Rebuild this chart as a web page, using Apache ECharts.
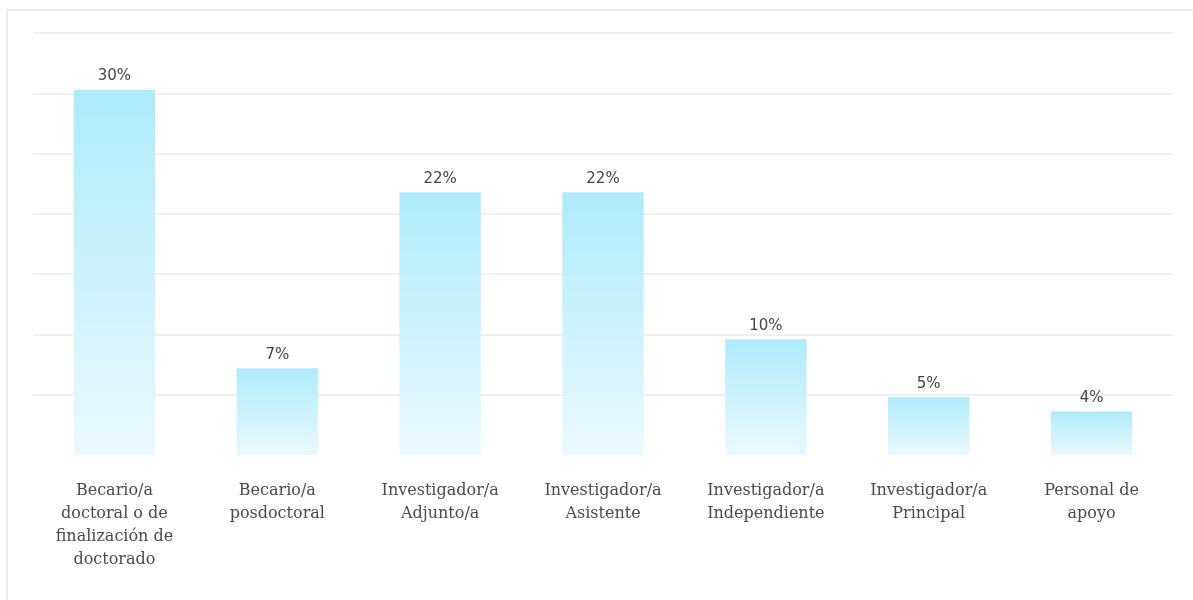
<!DOCTYPE html>
<html>
<head>
<meta charset="utf-8">
<script src="https://cdn.jsdelivr.net/npm/echarts@6/dist/echarts.min.js"></script>
<style>
  html, body { margin: 0; padding: 0; background: #fff; }
  #frame {
    position: absolute; left: 6px; top: 9px; width: 1187px; height: 591px;
    border-left: 2px solid #ececec; border-top: 2px solid #ececec;
    box-sizing: border-box;
  }
  #chart { position: absolute; left: 0; top: 0; width: 1193px; height: 600px; }
</style>
</head>
<body>
<div id="frame"></div>
<div id="chart"></div>
<script>
// categorias y porcentajes
const categories = [
  'Becario/a\ndoctoral o de\nfinalización de\ndoctorado',
  'Becario/a\nposdoctoral',
  'Investigador/a\nAdjunto/a',
  'Investigador/a\nAsistente',
  'Investigador/a\nIndependiente',
  'Investigador/a\nPrincipal',
  'Personal de\napoyo'
]
const percentValues = [30.3, 7.2, 21.8, 21.8, 9.6, 4.8, 3.6]
const percentLabels = ['30%', '7%', '22%', '22%', '10%', '5%', '4%']

const chart = echarts.init(document.getElementById('chart'), null, { renderer: 'canvas' })
chart.setOption({
  animation: false,
  grid: {
    left: 33,
    right: 20,
    top: 33,
    bottom: 145
  },
  xAxis: {
    type: 'category',
    data: categories,
    axisLine: { show: false },
    axisTick: { show: false },
    axisLabel: {
      interval: 0,
      margin: 24,
      color: '#4a4a4a',
      fontFamily: 'DejaVu Serif',
      fontSize: 16,
      lineHeight: 23
    }
  },
  yAxis: {
    type: 'value',
    min: 0,
    max: 35,
    interval: 5,
    axisLabel: { show: false },
    axisLine: { show: false },
    axisTick: { show: false },
    splitLine: {
      show: true,
      // la linea del cero no se ve en el original
      lineStyle: {
        color: ['transparent', '#f0f0f0', '#f0f0f0', '#f0f0f0', '#f0f0f0', '#f0f0f0', '#f0f0f0', '#f0f0f0'],
        width: 2
      }
    }
  },
  series: [
    {
      type: 'bar',
      data: percentValues,
      barWidth: '50%',
      itemStyle: {
        color: new echarts.graphic.LinearGradient(0, 0, 0, 1, [
          { offset: 0, color: '#aeebfb' },
          { offset: 1, color: '#eaf9fe' }
        ])
      },
      label: {
        show: true,
        position: 'top',
        distance: 6,
        color: '#444',
        fontFamily: 'DejaVu Sans',
        fontSize: 15,
        formatter: p => percentLabels[p.dataIndex]
      }
    }
  ]
})
</script>
</body>
</html>
